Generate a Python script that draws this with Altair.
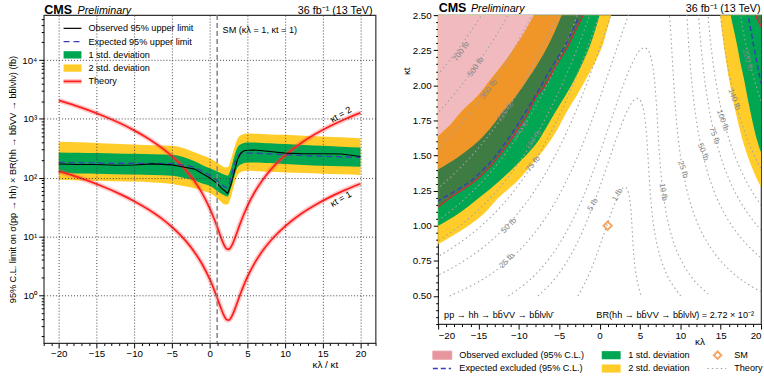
import altair as alt
import pandas as pd

FONT = "Liberation Sans"
YEL = "#ffcc29"
GRN = "#00a651"
TH_RED = "#ff2020"
OBS_RED = "#d0283a"
BLUE = "#3c3cb4"
PINK = "#cd1928"
CONT = "#a2a2a2"
SM_ORANGE = "#f5821f"

# ---------------- left panel: limits vs kl/kt ----------------
r_lim = [-20, -17.5, -15, -12.5, -10, -7.5, -5, -3.5, -2, -1, 0, 1, 1.6, 2.0, 2.4, 2.85,
         3.3, 3.7, 4.2, 4.6, 5, 6, 7, 8, 10, 12.5, 15, 17.5, 20]
obs_lim = [171, 168, 168, 163, 164, 172, 165, 152, 140, 118, 100, 80, 66, 60, 54, 78,
           131, 207, 268, 287, 292, 296, 288, 278, 262, 255, 256, 253, 230]
exp_lim = [182, 180, 178, 176, 176, 175, 172, 163, 150, 130, 110, 89, 76, 70, 68, 105,
           170, 236, 258, 262, 262, 262, 258, 255, 245, 238, 232, 226, 221]
up1_lim = [268, 265, 262, 258, 255, 250, 245, 225, 190, 165, 145, 128, 118, 112, 108, 145,
           235, 330, 375, 390, 396, 395, 390, 385, 373, 360, 348, 337, 327]
dn1_lim = [120, 118, 117, 115, 113, 111, 108, 100, 90, 80, 73, 60, 53, 50, 48, 68,
           108, 150, 170, 178, 182, 182, 180, 177, 171, 165, 160, 156, 153]
up2_lim = [407, 400, 390, 378, 365, 355, 348, 320, 270, 240, 215, 182, 160, 150, 150, 210,
           330, 460, 530, 555, 563, 560, 555, 545, 535, 515, 500, 485, 470]
dn2_lim = [92, 90, 89, 87, 86, 83, 78, 72, 66, 60, 55, 45, 38, 35, 35, 48,
           78, 110, 125, 130, 131, 130, 128, 126, 123, 120, 117, 114, 111]

r_th = [-20, -18, -16, -14, -12, -10, -8, -6, -5, -4, -3, -2, -1, 0, 0.5, 1, 1.5, 2, 2.25,
        2.5, 2.75, 3, 3.5, 4, 4.5, 5, 6, 7, 8, 10, 12, 14, 16, 18, 20]
th_kt1 = [128.9, 107.0, 87.2, 69.4, 53.6, 39.9, 28.2, 18.6, 14.5, 11.0, 7.94, 5.42, 3.41, 1.90,
          1.344, 0.911, 0.606, 0.428, 0.387, 0.378, 0.401, 0.456, 0.660, 0.993, 1.453, 2.04,
          3.60, 5.67, 8.24, 14.9, 23.7, 34.4, 47.2, 62.1, 79.0]
th_kt2 = [2062, 1712, 1395, 1110, 858, 638, 451, 297, 232, 176, 127, 86.7, 54.6, 30.4, 21.5,
          14.6, 9.70, 6.85, 6.19, 6.05, 6.42, 7.30, 10.56, 15.9, 23.2, 32.6, 57.6, 90.7, 132,
          239, 379, 551, 755, 993, 1264]

# ---------------- right panel: exclusion boundaries (kl at given kt) ----------------
b2dn_L_kt = [0.80, 0.871, 0.965, 1.083, 1.196, 1.318, 1.45, 1.573, 1.69, 1.808, 1.92, 2.043, 2.16, 2.28, 2.39, 2.5, 2.6]
b2dn_L_kl = [-22.5, -20.0, -17.2, -14.4, -12.6, -10.2, -8.2, -6.5, -5.2, -4.1, -2.9, -1.7, -0.6, 0.35, 0.9, 1.44, 1.95]
b1dn_L_kt = [0.93, 1.0, 1.083, 1.196, 1.33, 1.45, 1.573, 1.69, 1.808, 1.92, 2.043, 2.16, 2.28, 2.39, 2.5, 2.6]
b1dn_L_kl = [-22.3, -20.0, -17.6, -15.0, -12.2, -10.0, -8.0, -6.7, -5.5, -4.3, -3.1, -2.1, -1.2, -0.55, 0.0, 0.5]
b1up_L_kt = [1.30, 1.40, 1.49, 1.573, 1.69, 1.808, 1.92, 2.043, 2.16, 2.28, 2.39, 2.5, 2.6]
b1up_L_kl = [-22.8, -20.0, -17.5, -15.6, -13.6, -12.0, -10.4, -8.9, -7.6, -6.4, -5.5, -4.7, -4.0]
b2up_L_kt = [1.55, 1.64, 1.72, 1.808, 1.92, 2.043, 2.16, 2.28, 2.39, 2.5, 2.6]
b2up_L_kl = [-21.8, -20.0, -18.5, -17.2, -15.2, -13.5, -11.9, -10.4, -9.2, -8.17, -7.2]
obs_L_kt = [1.10, 1.135, 1.196, 1.26, 1.33, 1.40, 1.48, 1.573, 1.69, 1.808, 1.88, 1.93, 1.98,
            2.043, 2.10, 2.20, 2.28, 2.40, 2.5, 2.6]
obs_L_kl = [-21.0, -20.0, -18.6, -16.9, -15.2, -13.9, -12.7, -11.45, -10.1, -8.8, -8.2, -7.75,
            -7.0, -6.33, -5.8, -4.75, -3.9, -2.9, -2.04, -1.3]
exp_L_kt = [1.14, 1.177, 1.25, 1.33, 1.40, 1.48, 1.573, 1.69, 1.808, 1.92, 2.043, 2.16, 2.28, 2.40, 2.5, 2.6]
exp_L_kl = [-21.0, -20.0, -17.8, -15.7, -14.4, -13.1, -11.9, -10.5, -9.2, -8.0, -6.8, -5.6, -4.3, -3.3, -2.45, -1.7]
b2dn_R_kt = [1.20, 1.278, 1.384, 1.48, 1.573, 1.69, 1.808, 1.92, 2.043, 2.16, 2.28, 2.39, 2.5, 2.6]
b2dn_R_kl = [21.0, 20.0, 19.1, 18.45, 17.9, 17.35, 16.86, 16.45, 16.04, 15.7, 15.4, 15.15, 14.93, 14.7]
b1dn_R_kt = [1.45, 1.525, 1.573, 1.69, 1.808, 1.92, 2.043, 2.16, 2.28, 2.39, 2.5, 2.6]
b1dn_R_kl = [21.2, 20.0, 19.7, 19.15, 18.7, 18.3, 17.9, 17.45, 17.06, 16.65, 16.24, 15.95]
exp_R_kt = [1.95, 2.02, 2.16, 2.28, 2.39, 2.5, 2.6]
exp_R_kl = [20.6, 20.0, 19.5, 19.1, 18.75, 18.4, 18.1]
obs_R_kt = [2.35, 2.42, 2.5, 2.6]
obs_R_kl = [20.6, 20.0, 19.3, 18.7]

# ---------------- right panel: theory iso-cross-section contours (kl, kt) ----------------
c1 = [(-2.69, 0.5), (-1.75, 0.6), (-0.98, 0.7), (-0.32, 0.8), (0.29, 0.9), (0.88, 1.0), (1.49, 1.1),
      (2.17, 1.2), (2.29, 1.216), (2.68, 1.256), (2.92, 1.271), (3.12, 1.276), (3.3, 1.271),
      (3.46, 1.256), (3.66, 1.216), (3.71, 1.2), (3.9, 1.1), (4.01, 1.0), (4.11, 0.9), (4.23, 0.8),
      (4.41, 0.7), (4.69, 0.6), (5.14, 0.5)]
c5 = [(-7.61, 0.5), (-5.87, 0.6), (-4.55, 0.7), (-3.49, 0.8), (-2.59, 0.9), (-1.81, 1.0), (-1.1, 1.1),
      (-0.45, 1.2), (0.17, 1.3), (0.76, 1.4), (1.35, 1.5), (1.95, 1.6), (2.58, 1.7), (3.28, 1.8),
      (3.71, 1.85), (4.03, 1.88), (4.35, 1.9), (4.67, 1.908), (4.95, 1.9), (5.16, 1.88), (5.34, 1.85),
      (5.53, 1.8), (5.74, 1.7), (5.88, 1.6), (5.99, 1.5), (6.09, 1.4), (6.20, 1.3), (6.32, 1.2),
      (6.49, 1.1), (6.70, 1.0), (7.00, 0.9), (7.40, 0.8), (7.98, 0.7), (8.81, 0.6), (10.06, 0.5)]
c10 = [(-11.29, 0.5), (-8.94, 0.6), (-7.19, 0.7), (-5.81, 0.8), (-4.67, 0.9), (-3.70, 1.0), (-2.84, 1.1),
       (-2.07, 1.2), (-1.37, 1.3), (-0.71, 1.4), (-0.08, 1.5), (0.52, 1.6), (1.11, 1.7), (1.70, 1.8),
       (2.30, 1.9), (2.92, 2.0), (3.60, 2.1), (4.41, 2.2), (5.00, 2.25), (5.55, 2.269), (6.01, 2.25),
       (6.35, 2.2), (6.68, 2.1), (6.86, 2.0), (7.00, 1.9), (7.11, 1.8), (7.21, 1.7), (7.31, 1.6),
       (7.43, 1.5), (7.56, 1.4), (7.73, 1.3), (7.95, 1.2), (8.22, 1.1), (8.59, 1.0), (9.07, 0.9),
       (9.72, 0.8), (10.62, 0.7), (11.88, 0.6), (13.73, 0.5)]
c25L = [(-18.57, 0.5), (-15.02, 0.6), (-12.41, 0.7), (-10.38, 0.8), (-8.75, 0.9), (-7.38, 1.0),
        (-6.21, 1.1), (-5.19, 1.2), (-4.27, 1.3), (-3.44, 1.4), (-2.67, 1.5), (-1.96, 1.6), (-1.28, 1.7),
        (-0.64, 1.8), (-0.02, 1.9), (0.58, 2.0), (1.17, 2.1), (1.76, 2.2), (2.35, 2.3), (2.96, 2.4),
        (3.58, 2.5), (4.24, 2.6)]
c25R = [(21.0, 0.5), (17.95, 0.6), (15.83, 0.7), (14.30, 0.8), (13.15, 0.9), (12.27, 1.0), (11.59, 1.1),
        (11.06, 1.2), (10.63, 1.3), (10.29, 1.4), (10.01, 1.5), (9.79, 1.6), (9.60, 1.7), (9.45, 1.8),
        (9.32, 1.9), (9.20, 2.0), (9.10, 2.1), (9.00, 2.2), (8.90, 2.3), (8.79, 2.4), (8.65, 2.5), (8.48, 2.6)]
c50L = [(-21.86, 0.6), (-18.27, 0.7), (-15.51, 0.8), (-13.31, 0.9), (-11.50, 1.0), (-9.97, 1.1),
        (-8.64, 1.2), (-7.47, 1.3), (-6.43, 1.4), (-5.49, 1.5), (-4.62, 1.6), (-3.81, 1.7), (-3.06, 1.8),
        (-2.35, 1.9), (-1.67, 2.0), (-1.02, 2.1), (-0.39, 2.2), (0.22, 2.3), (0.82, 2.4), (1.41, 2.5), (2.00, 2.6)]
c50R = [(21.7, 0.7), (19.43, 0.8), (17.72, 0.9), (16.39, 1.0), (15.35, 1.1), (14.51, 1.2), (13.84, 1.3),
        (13.28, 1.4), (12.83, 1.5), (12.45, 1.6), (12.13, 1.7), (11.87, 1.8), (11.65, 1.9), (11.46, 2.0),
        (11.30, 2.1), (11.16, 2.2), (11.03, 2.3), (10.92, 2.4), (10.82, 2.5), (10.72, 2.6)]
c75L = [(-22.77, 0.7), (-19.46, 0.8), (-16.82, 0.9), (-14.66, 1.0), (-12.84, 1.1), (-11.28, 1.2),
        (-9.92, 1.3), (-8.71, 1.4), (-7.62, 1.5), (-6.63, 1.6), (-5.71, 1.7), (-4.87, 1.8), (-4.08, 1.9),
        (-3.33, 2.0), (-2.62, 2.1), (-1.94, 2.2), (-1.29, 2.3), (-0.65, 2.4), (-0.03, 2.5), (0.57, 2.6)]
c75R = [(21.22, 0.9), (19.55, 1.0), (18.22, 1.1), (17.15, 1.2), (16.28, 1.3), (15.55, 1.4), (14.96, 1.5),
        (14.45, 1.6), (14.03, 1.7), (13.67, 1.8), (13.37, 1.9), (13.11, 2.0), (12.89, 2.1), (12.70, 2.2),
        (12.54, 2.3), (12.39, 2.4), (12.26, 2.5), (12.15, 2.6)]
c100L = [(-22.77, 0.8), (-19.78, 0.9), (-17.32, 1.0), (-15.26, 1.1), (-13.50, 1.2), (-11.97, 1.3),
         (-10.61, 1.4), (-9.40, 1.5), (-8.31, 1.6), (-7.30, 1.7), (-6.38, 1.8), (-5.51, 1.9), (-4.70, 2.0),
         (-3.94, 2.1), (-3.21, 2.2), (-2.51, 2.3), (-1.85, 2.4), (-1.20, 2.5), (-0.57, 2.6)]
c100R = [(22.21, 1.0), (20.64, 1.1), (19.37, 1.2), (18.33, 1.3), (17.47, 1.4), (16.75, 1.5), (16.13, 1.6),
         (15.62, 1.7), (15.18, 1.8), (14.81, 1.9), (14.49, 2.0), (14.21, 2.1), (13.97, 2.2), (13.77, 2.3),
         (13.59, 2.4), (13.43, 2.5), (13.29, 2.6)]
c140L = [(-23.8, 0.9), (-20.95, 1.0), (-18.57, 1.1), (-16.53, 1.2), (-14.77, 1.3), (-13.22, 1.4),
         (-11.84, 1.5), (-10.60, 1.6), (-9.47, 1.7), (-8.43, 1.8), (-7.46, 1.9), (-6.56, 2.0), (-5.72, 2.1),
         (-4.93, 2.2), (-4.17, 2.3), (-3.44, 2.4), (-2.75, 2.5), (-2.08, 2.6)]
c140R = [(21.13, 1.3), (20.07, 1.4), (19.18, 1.5), (18.43, 1.6), (17.78, 1.7), (17.23, 1.8), (16.76, 1.9),
         (16.35, 2.0), (16.0, 2.1), (15.69, 2.2), (15.42, 2.3), (15.19, 2.4), (14.98, 2.5), (14.8, 2.6)]
c220L = [(-21.49, 1.2), (-19.35, 1.3), (-17.48, 1.4), (-15.82, 1.5), (-14.34, 1.6), (-12.99, 1.7),
         (-11.76, 1.8), (-10.63, 1.9), (-9.59, 2.0), (-8.61, 2.1), (-7.7, 2.2), (-6.83, 2.3), (-6.01, 2.4),
         (-5.23, 2.5), (-4.48, 2.6)]
c220R = [(20.57, 1.8), (19.93, 1.9), (19.37, 2.0), (18.89, 2.1), (18.46, 2.2), (18.09, 2.3), (17.75, 2.4),
         (17.46, 2.5), (17.2, 2.6)]
c350L = [(-20.96, 1.5), (-19.16, 1.6), (-17.53, 1.7), (-16.06, 1.8), (-14.71, 1.9), (-13.47, 2.0),
         (-12.32, 2.1), (-11.24, 2.2), (-10.23, 2.3), (-9.28, 2.4), (-8.39, 2.5), (-7.53, 2.6)]
c500L = [(-21.8, 1.7), (-20.1, 1.8), (-18.54, 1.9), (-17.11, 2.0), (-15.79, 2.1), (-14.56, 2.2),
         (-13.42, 2.3), (-12.34, 2.4), (-11.33, 2.5), (-10.37, 2.6)]
c700L = [(-21.19, 2.0), (-19.68, 2.1), (-18.28, 2.2), (-16.98, 2.3), (-15.76, 2.4), (-14.62, 2.5),
         (-13.54, 2.6)]

# contour labels
clab_kl = [-17.1, -15.3, -13.7, -11.65, -9.8, -8.2, -8.2, -11.2, -11.45, -0.8, 2.26,
           18.3, 16.65, 15.2, 14.2, 12.8, 10.3, 7.85]
clab_kt = [2.24, 2.13, 1.97, 1.81, 1.68, 1.61, 1.44, 1.0, 0.75, 1.15, 1.22,
           2.18, 1.90, 1.75, 1.64, 1.525, 1.40, 1.24]
clab_txt = ["700 fb", "500 fb", "350 fb", "220 fb", "140 fb", "100 fb", "75 fb", "50 fb", "25 fb",
            "5 fb", "1 fb", "220 fb", "140 fb", "100 fb", "75 fb", "50 fb", "25 fb", "10 fb"]
clab_ang = [305, 305, 308, 308, 308, 305, 308, 315, 315, 300, 300, 75, 70, 70, 70, 68, 72, 80]

contours = {"1": c1, "5": c5, "10": c10, "25L": c25L, "25R": c25R, "50L": c50L, "50R": c50R,
            "75L": c75L, "75R": c75R, "100L": c100L, "100R": c100R, "140L": c140L, "140R": c140R,
            "220L": c220L, "220R": c220R, "350L": c350L, "500L": c500L, "700L": c700L}
cont = pd.DataFrame([{"kl": p[0], "kt": p[1], "curve": name, "i": i}
                     for name, pts in contours.items() for i, p in enumerate(pts)])

# ---------------- helpers ----------------
ONE = pd.DataFrame({"k": [0]})


def txt(s, x, y, size=9.2, align="left", baseline="middle", angle=0, color="black",
        weight="normal", style="normal"):
    kw = dict(text=s, align=align, baseline=baseline, fontSize=size, color=color, font=FONT,
              fontWeight=weight, fontStyle=style)
    if angle:
        kw["angle"] = angle
    return alt.Chart(ONE).mark_text(**kw).encode(x=alt.value(x), y=alt.value(y))


def hrule(x1, x2, y, color, width=1, dash=None, opacity=1):
    kw = dict(color=color, strokeWidth=width, opacity=opacity)
    if dash:
        kw["strokeDash"] = dash
    return alt.Chart(ONE).mark_rule(**kw).encode(x=alt.value(x1), x2=alt.value(x2), y=alt.value(y))


def box(x1, x2, y1, y2, color, opacity=1, stroke=None):
    kw = dict(color=color, opacity=opacity)
    if stroke:
        kw["stroke"] = stroke
        kw["strokeWidth"] = 1
    return alt.Chart(ONE).mark_rect(**kw).encode(x=alt.value(x1), x2=alt.value(x2),
                                                 y=alt.value(y1), y2=alt.value(y2))


# ---------------- left panel ----------------
W1, H1 = 334, 330
xL = alt.Scale(domain=[-22, 22], nice=False, zero=False)
yL = alt.Scale(type="log", domain=[0.155, 58000], nice=False)
xvL = list(range(-22, 23))
yvL = [0.2, 0.3, 0.4, 0.5, 0.6, 0.7, 0.8, 0.9, 1, 2, 3, 4, 5, 6, 7, 8, 9, 10, 20, 30, 40, 50,
       60, 70, 80, 90, 100, 200, 300, 400, 500, 600, 700, 800, 900, 1000, 2000, 3000, 4000,
       5000, 6000, 7000, 8000, 9000, 10000, 20000, 30000, 40000, 50000]
YMAJ = "indexof([1, 10, 100, 1000, 10000], datum.value) >= 0"
TXL = "κλ / κt"
TYL = "95% C.L. limit on σ(pp → hh) × BR(hh → bb\u0304VV → bb\u0304lνlν) (fb)"
axXL = alt.Axis(values=xvL, labelOverlap=False,
                labelExpr="datum.value % 5 == 0 && abs(datum.value) <= 20 ? datum.label : ''",
                tickSize={"condition": {"test": "datum.value % 5 != 0", "value": 2.5}, "value": 5},
                grid=True, gridColor="#444", gridDash=[1, 2],
                gridOpacity={"condition": {"test": "datum.value % 5 != 0 || abs(datum.value) > 20", "value": 0}, "value": 1},
                domain=False, labelPadding=1, titleX=283, titleY=17, titleAlign="center",
                titleBaseline="top", titleFontSize=10, zindex=1)
axYL = alt.Axis(values=yvL, labelOverlap=False,
                labelExpr="datum.value == 1 ? '10⁰' : datum.value == 10 ? '10¹' : datum.value == 100 ? '10²' : datum.value == 1000 ? '10³' : datum.value == 10000 ? '10⁴' : ''",
                tickSize={"condition": {"test": "!(" + YMAJ + ")", "value": 2.5}, "value": 5},
                grid=True, gridColor="#444", gridDash=[1, 2],
                gridOpacity={"condition": {"test": "!(" + YMAJ + ")", "value": 0}, "value": 1},
                domain=False, labelPadding=2, titlePadding=4, zindex=1)


def XL(f):
    return alt.X(f, type="quantitative", scale=xL, axis=axXL, title=TXL)


def YL(f):
    return alt.Y(f, type="quantitative", scale=yL, axis=axYL, title=TYL)


lim = pd.DataFrame({"r": r_lim, "obs": obs_lim, "exp": exp_lim, "up1": up1_lim, "dn1": dn1_lim,
                    "up2": up2_lim, "dn2": dn2_lim})
nth = len(r_th)
th = pd.DataFrame({"r": r_th + r_th, "sigma": th_kt1 + th_kt2, "curve": ["kt1"] * nth + ["kt2"] * nth})

band2 = alt.Chart(lim).mark_area(color=YEL, interpolate="monotone").encode(x=XL("r"), y=YL("dn2"), y2="up2:Q")
band1 = alt.Chart(lim).mark_area(color=GRN, interpolate="monotone").encode(x=XL("r"), y=YL("dn1"), y2="up1:Q")
th_halo = alt.Chart(th).mark_line(color="#ff4d4d", strokeWidth=5, opacity=0.3, interpolate="monotone").encode(
    x=XL("r"), y=YL("sigma"), detail="curve:N")
th_core = alt.Chart(th).mark_line(color=TH_RED, strokeWidth=1.8, interpolate="monotone").encode(
    x=XL("r"), y=YL("sigma"), detail="curve:N")
exp_line = alt.Chart(lim).mark_line(color=BLUE, strokeWidth=1.3, strokeDash=[6, 4], interpolate="monotone").encode(
    x=XL("r"), y=YL("exp"))
obs_line = alt.Chart(lim).mark_line(color="black", strokeWidth=1.1).encode(x=XL("r"), y=YL("obs"))
sm_rule = alt.Chart(pd.DataFrame({"x": [1]})).mark_rule(color="#8a8a8a", strokeWidth=1.6, strokeDash=[5, 3]).encode(x=XL("x"))

leg_left = [
    hrule(20, 38, 13.3, "black", 1.2), txt("Observed 95% upper limit", 45, 13.3),
    hrule(20, 38, 26.7, BLUE, 1.3, [6, 4]), txt("Expected 95% upper limit", 45, 26.7),
    box(20, 38, 36.3, 43.7, GRN), txt("1 std. deviation", 45, 40),
    box(20, 38, 49.6, 57, YEL), txt("2 std. deviation", 45, 53.3),
    hrule(20, 38, 66.7, "#ff4d4d", 5, None, 0.3), hrule(20, 38, 66.7, TH_RED, 1.8), txt("Theory", 45, 66.7),
    txt("SM (κλ = 1, κt = 1)", 180, 15),
    txt("κt = 2", 299, 100, angle=330, align="center"),
    txt("κt = 1", 299, 185, angle=330, align="center"),
    txt("CMS", 0.5, -1.5, size=12.6, weight="bold", baseline="alphabetic"),
    txt("Preliminary", 34, -1.5, size=10.8, style="italic", baseline="alphabetic"),
    txt("36 fb⁻¹ (13 TeV)", 331, -1.5, size=10.8, align="right", baseline="alphabetic"),
]

left = alt.layer(band2, band1, th_halo, th_core, exp_line, obs_line, sm_rule, *leg_left).properties(
    width=W1, height=H1)

# ---------------- right panel ----------------
W2, H2 = 325, 311
xR = alt.Scale(domain=[-20, 20], nice=False, zero=False)
yR = alt.Scale(domain=[0.3, 2.5], nice=False, zero=False)
xvR = list(range(-20, 21))
yvR = [0.3, 0.35, 0.4, 0.45, 0.5, 0.55, 0.6, 0.65, 0.7, 0.75, 0.8, 0.85, 0.9, 0.95, 1.0, 1.05,
       1.1, 1.15, 1.2, 1.25, 1.3, 1.35, 1.4, 1.45, 1.5, 1.55, 1.6, 1.65, 1.7, 1.75, 1.8, 1.85,
       1.9, 1.95, 2.0, 2.05, 2.1, 2.15, 2.2, 2.25, 2.3, 2.35, 2.4, 2.45, 2.5]
RMAJ = "abs(datum.value * 4 - round(datum.value * 4)) < 0.001"
axXR = alt.Axis(values=xvR, labelOverlap=False,
                labelExpr="datum.value % 5 == 0 ? datum.label : ''",
                tickSize={"condition": {"test": "datum.value % 5 != 0", "value": 2.5}, "value": 5},
                grid=False, domain=False, labelPadding=1, titleX=263, titleY=13, titleAlign="center",
                titleBaseline="top", titleFontSize=10)
axYR = alt.Axis(values=yvR, labelOverlap=False,
                labelExpr=RMAJ + " ? format(datum.value, '.2f') : ''",
                tickSize={"condition": {"test": "!(" + RMAJ + ")", "value": 2.5}, "value": 5},
                grid=False, domain=False, labelPadding=2, titleX=-32, titleY=56, titleAngle=270,
                titleAlign="center", titleBaseline="middle", titleFontSize=10)


def XR(f):
    return alt.X(f, type="quantitative", scale=xR, axis=axXR, title="κλ")


def YR(f):
    return alt.Y(f, type="quantitative", scale=yR, axis=axYR, title="κt")


def fill(kts, kls, side, color, opacity=1):
    edge = -30 if side == "L" else 30
    df = pd.DataFrame({"kt": kts, "kl": kls, "edge": [edge] * len(kts)})
    return alt.Chart(df).mark_area(orient="horizontal", color=color, opacity=opacity, clip=True,
                                   interpolate="monotone").encode(x=XR("kl"), x2="edge:Q", y=YR("kt"))


def bline(kts, kls, color, width, dash=None):
    df = pd.DataFrame({"kt": kts, "kl": kls})
    kw = dict(color=color, strokeWidth=width, clip=True, interpolate="monotone", orient="horizontal")
    if dash:
        kw["strokeDash"] = dash
    return alt.Chart(df).mark_line(**kw).encode(x=XR("kl"), y=YR("kt"), order="kt:Q")


fills = [
    fill(b2dn_L_kt, b2dn_L_kl, "L", YEL), fill(b2dn_R_kt, b2dn_R_kl, "R", YEL),
    fill(b1dn_L_kt, b1dn_L_kl, "L", GRN), fill(b1dn_R_kt, b1dn_R_kl, "R", GRN),
    fill(b1up_L_kt, b1up_L_kl, "L", YEL),
    fill(b2up_L_kt, b2up_L_kl, "L", "white"),
    fill(obs_L_kt, obs_L_kl, "L", PINK, 0.3), fill(obs_R_kt, obs_R_kl, "R", PINK, 0.3),
]
cont_lines = alt.Chart(cont).mark_line(color=CONT, strokeWidth=1.1, strokeDash=[1.5, 3], clip=True,
                                       interpolate="catmull-rom").encode(
    x=XR("kl"), y=YR("kt"), detail="curve:N", order="i:Q")
lab = pd.DataFrame({"kl": clab_kl, "kt": clab_kt, "t": clab_txt, "a": clab_ang})
cont_lab = alt.Chart(lab).mark_text(color="#858585", fontSize=8, font=FONT).encode(
    x=XR("kl"), y=YR("kt"), text="t:N", angle=alt.Angle("a:Q", scale=None))
lines_R = [
    bline(exp_L_kt, exp_L_kl, BLUE, 1.5, [5, 3]), bline(exp_R_kt, exp_R_kl, BLUE, 1.5, [5, 3]),
    bline(obs_L_kt, obs_L_kl, OBS_RED, 1.3), bline(obs_R_kt, obs_R_kl, OBS_RED, 1.3),
]
sm_pt = alt.Chart(pd.DataFrame({"kl": [1], "kt": [1]})).mark_point(
    shape="diamond", filled=False, color=SM_ORANGE, strokeWidth=2, size=70).encode(x=XR("kl"), y=YR("kt"))

deco_R = [
    txt("pp → hh → bb\u0304VV → bb\u0304lνlν\u0304", 6, 301.7),
    txt("BR(hh → bb\u0304VV → bb\u0304lνlν\u0304) = 2.72 × 10⁻²", 318, 301.7, align="right"),
    txt("CMS", 0.5, -3.3, size=12.6, weight="bold", baseline="alphabetic"),
    txt("Preliminary", 33, -3.3, size=10.8, style="italic", baseline="alphabetic"),
    txt("36 fb⁻¹ (13 TeV)", 324.5, -3.3, size=10.8, align="right", baseline="alphabetic"),
    box(-5.3, 13.7, 338.2, 346.4, PINK, 0.45, OBS_RED), txt("Observed excluded (95% C.L.)", 21.3, 342.3),
    hrule(-5.3, 13, 355.7, BLUE, 1.5, [5, 3]), txt("Expected excluded (95% C.L.)", 21.3, 355.7),
    box(164.7, 183.7, 338.2, 346.4, GRN), txt("1 std. deviation", 191.3, 342.3),
    box(164.7, 183.7, 351.6, 359.8, YEL), txt("2 std. deviation", 191.3, 355.7),
    alt.Chart(ONE).mark_point(shape="diamond", filled=False, color=SM_ORANGE, strokeWidth=2, size=55).encode(
        x=alt.value(281.3), y=alt.value(342.3)),
    txt("SM", 298, 342.3),
    hrule(271, 290, 355.7, CONT, 1.1, [1.5, 3]), txt("Theory", 298, 355.7),
]

right = alt.layer(*fills, cont_lines, cont_lab, *lines_R, sm_pt, *deco_R).properties(width=W2, height=H2)

chart = alt.hconcat(left, right, spacing=23).properties(
    padding={"left": 8, "top": 0, "right": 0, "bottom": 0}, background="white"
).configure_view(stroke="#333", strokeWidth=1.2).configure_axis(
    labelFont=FONT, titleFont=FONT, labelFontSize=9.8, titleFontSize=9.2, labelColor="black",
    titleColor="black", tickColor="black", titleFontWeight="normal"
)

chart.save("out.html", embed_options={"renderer": "svg", "actions": False})
